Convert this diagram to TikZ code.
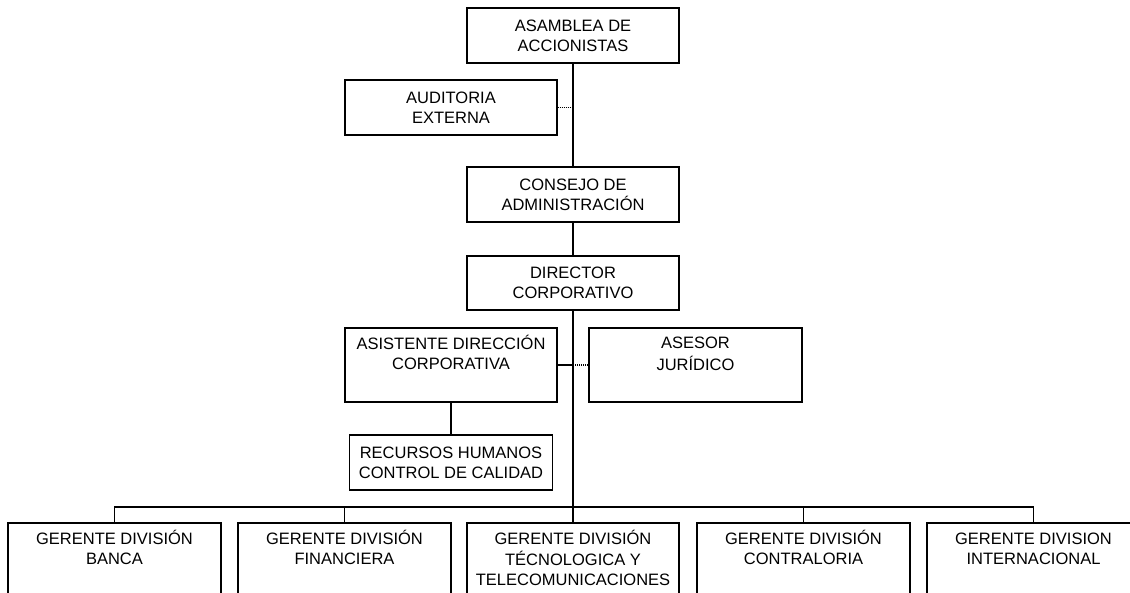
\documentclass[tikz,border=0pt]{standalone}
\usepackage{fontspec}
\setmainfont{Liberation Sans}
\usepackage{tikz}
\tikzset{
  box/.style={draw=black, line width=1.4pt, inner sep=0pt, minimum width=212pt, minimum height=55pt, align=center, font=\fontsize{16.5}{20}\selectfont},
  link/.style={draw=black, line width=1.3pt},
  dots/.style={draw=black, line width=1.3pt, dash pattern=on 1pt off 1pt},
}
\newcommand{\tbox}[2]{\parbox[c][#1][t]{205pt}{\centering\vspace*{7pt}\strut#2}}

\begin{document}
\begin{tikzpicture}[x=1pt,y=-1pt]
  \useasboundingbox (0,0) rectangle (1130,593);
  \clip (0,0) rectangle (1130,593);

  \node[box] (asamblea) at (573,35.5) {ASAMBLEA DE\\ACCIONISTAS};
  \node[box] (auditoria) at (451,107.5) {AUDITORIA\\EXTERNA};
  \node[box] (consejo) at (573,194.5) {CONSEJO DE\\ADMINISTRACIÓN};
  \node[box, minimum height=54pt] (director) at (573,283) {DIRECTOR\\CORPORATIVO};
  \node[box] (asistente) at (451,365) {\tbox{74pt}{ASISTENTE DIRECCIÓN\\CORPORATIVA}};
  \node[box, minimum width=213pt] (asesor) at (695.5,365) {\tbox{74pt}{ASESOR\\JURÍDICO}};
  \node[box, minimum width=203pt] (recursos) at (451,462.5) {RECURSOS HUMANOS\\CONTROL DE CALIDAD};

  % gerencias (cut by the page bottom)
  \node[box, minimum width=213pt] (banca) at (114.5,568) {\tbox{90pt}{GERENTE DIVISIÓN\\BANCA}};
  \node[box, minimum width=213pt] (financiera) at (344.5,568) {\tbox{90pt}{GERENTE DIVISIÓN\\FINANCIERA}};
  \node[box] (tecno) at (573,568) {\tbox{90pt}{GERENTE DIVISIÓN\\TÉCNOLOGICA Y\\TELECOMUNICACIONES}};
  \node[box, minimum width=213pt] (contraloria) at (803.5,568) {\tbox{90pt}{GERENTE DIVISIÓN\\CONTRALORIA}};
  \node[box, minimum width=213pt] (internacional) at (1033.5,568) {\tbox{90pt}{GERENTE DIVISION\\INTERNACIONAL}};
  \coordinate (bus) at (573,507);

  % main line
  \draw[link] (asamblea) -- (consejo);
  \draw[link] (consejo) -- (director);
  \draw[link] (director) -- (bus);
  \draw[link] (bus) -- (tecno);
  \draw[dots] (auditoria.east) -- (auditoria.east -| asamblea.south);
  \draw[link] (asistente.east) -- (asistente.east -| director.south);
  \draw[dots] (asistente.east -| director.south) -- (asesor.west);
  \draw[link] (asistente) -- (recursos);

  % bus to the divisions
  \draw[link] (banca.north) |- (bus) -| (internacional.north);
  \foreach \g in {financiera,contraloria}
    \draw[link] (\g.north) -- (\g.north |- bus);
\end{tikzpicture}
\end{document}
